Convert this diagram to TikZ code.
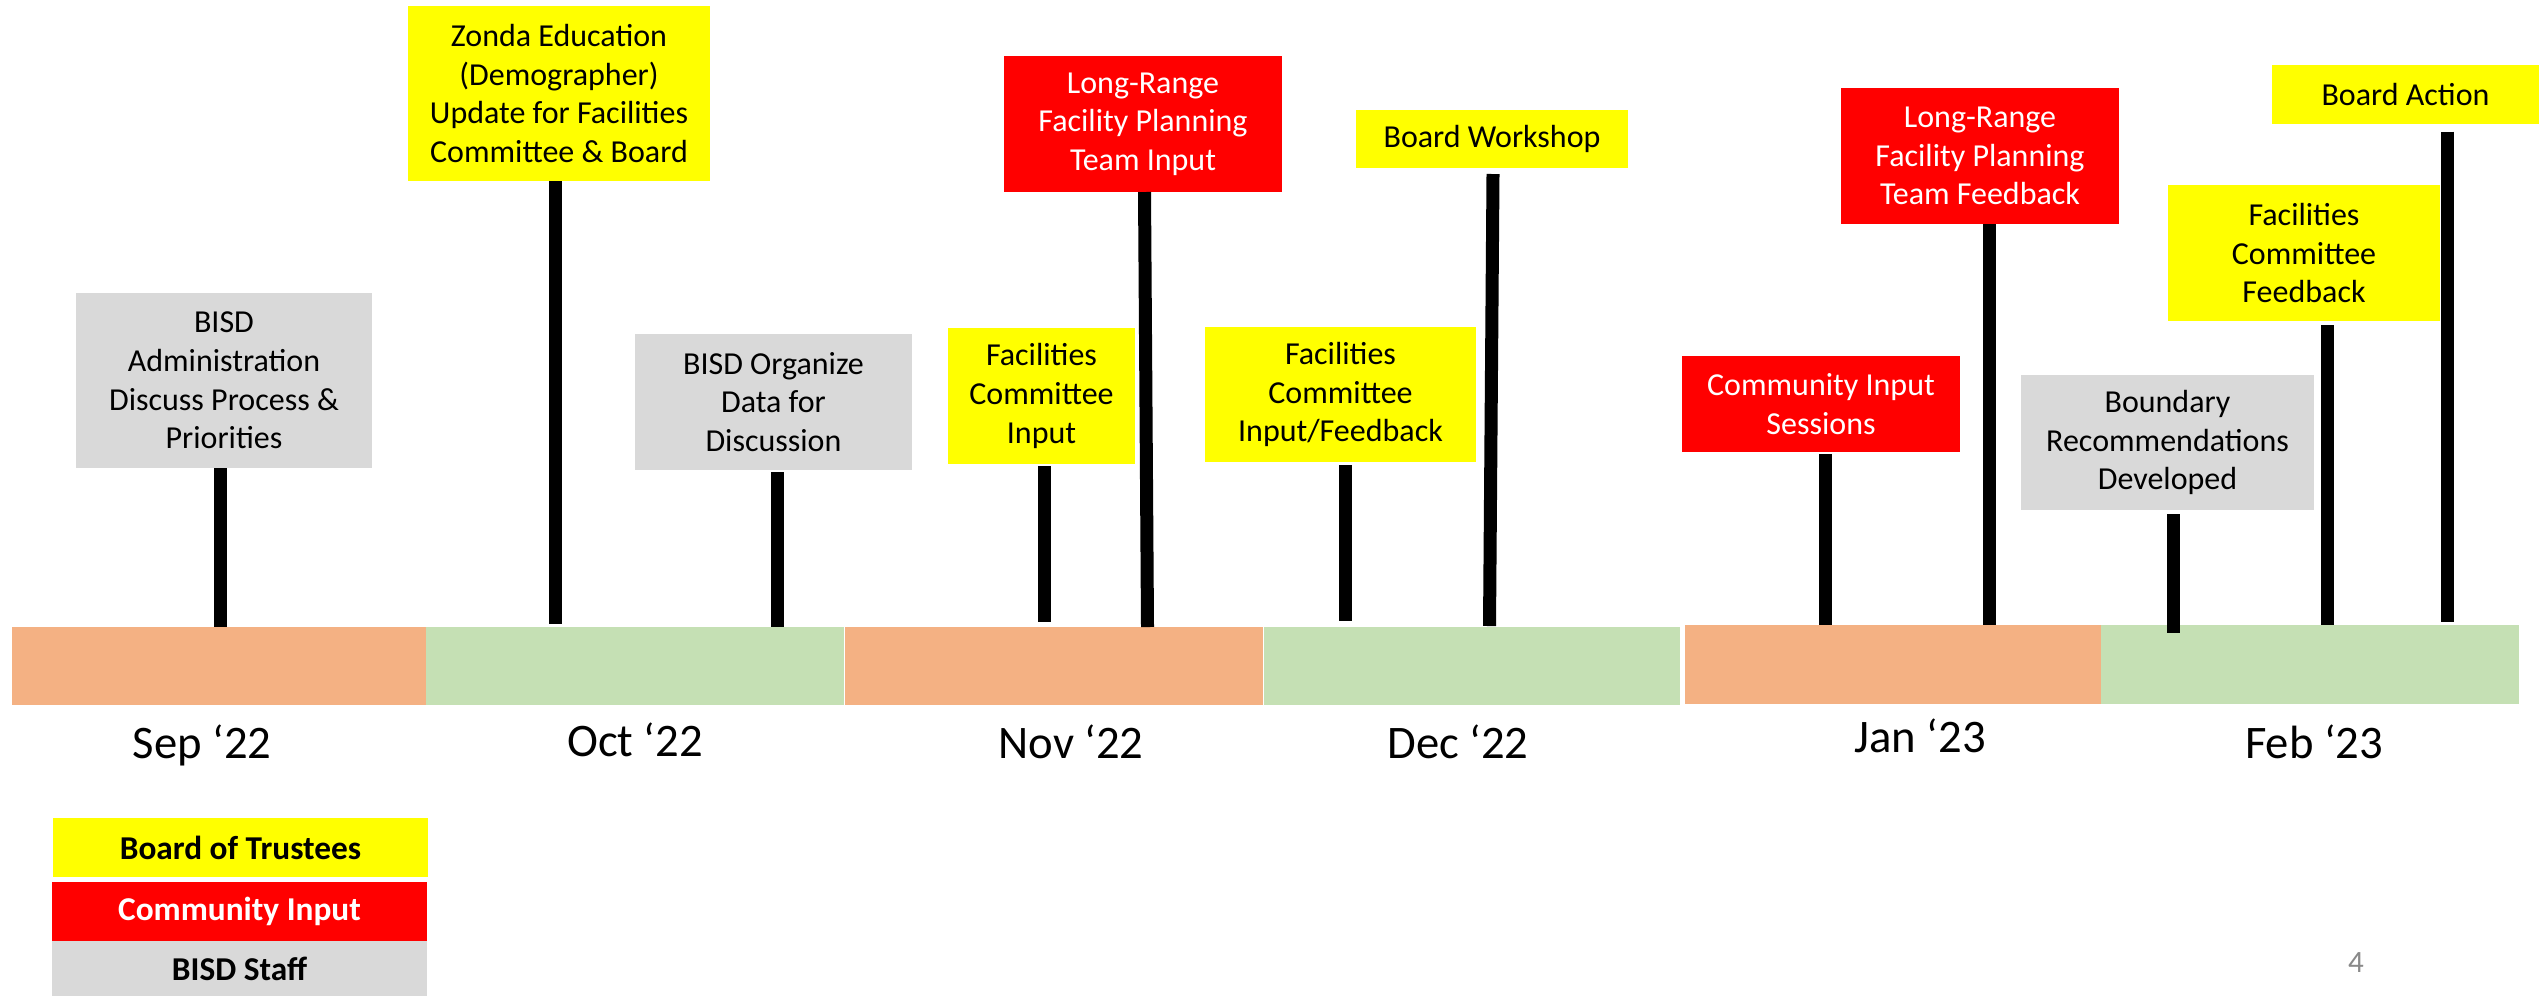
\documentclass[tikz,border=0pt]{standalone}
\usepackage{fontspec}
\setmainfont{Carlito}
\usetikzlibrary{calc}
\definecolor{byel}{HTML}{FFFF00}
\definecolor{cred}{HTML}{FF0000}
\definecolor{sgray}{HTML}{D9D9D9}
\definecolor{morange}{HTML}{F4B183}
\definecolor{mgreen}{HTML}{C5E0B4}
\definecolor{pgnum}{HTML}{898989}
\begin{document}
\begin{tikzpicture}[x=0.3pt,y=-0.3pt,
 evt/.style={inner sep=0pt, outer sep=0pt, align=center, font=\fontsize{9.6}{11.6}\selectfont},
 board/.style={evt, fill=byel, text=black},
 comm/.style={evt, fill=cred, text=white},
 staff/.style={evt, fill=sgray, text=black},
 monthbar/.style={inner sep=0pt, outer sep=0pt},
 mlabel/.style={font=\fontsize{14}{16}\selectfont, anchor=base, inner sep=0pt},
 legendbox/.style={inner sep=0pt, outer sep=0pt, minimum width=112.5pt, font=\bfseries\fontsize{10}{12}\selectfont},
 stick/.style={line width=3.9pt, black},
]
\useasboundingbox (0,0) rectangle (2539,996);
\fill[white] (0,0) rectangle (2539,996);

% month bars
\node[monthbar, fill=morange, minimum width=124.2pt, minimum height=23.4pt] (sep) at (219,666) {};
\node[monthbar, fill=mgreen, minimum width=125.4pt, minimum height=23.4pt] (oct) at (635,666) {};
\node[monthbar, fill=morange, minimum width=125.4pt, minimum height=23.4pt] (nov) at (1054,666) {};
\node[monthbar, fill=mgreen, minimum width=124.8pt, minimum height=23.4pt] (dec) at (1472,666) {};
\node[monthbar, fill=morange, minimum width=124.8pt, minimum height=23.7pt] (jan) at (1893,664.5) {};
\node[monthbar, fill=mgreen, minimum width=125.4pt, minimum height=23.7pt] (feb) at (2310,664.5) {};

% month labels
\node[mlabel] (lsep) at (202,758) {Sep ‘22};
\node[mlabel] (loct) at (635,756) {Oct ‘22};
\node[mlabel] (lnov) at (1071,758) {Nov ‘22};
\node[mlabel] (ldec) at (1458,758) {Dec ‘22};
\node[mlabel] (ljan) at (1920,752) {Jan ‘23};
\node[mlabel] (lfeb) at (2314,758) {Feb ‘23};

% event boxes
\node[staff, minimum width=88.8pt, minimum height=52.5pt] (admin) at (224,380.5) {BISD\\Administration\\Discuss Process \&\\Priorities};
\node[board, minimum width=90.6pt, minimum height=52.5pt] (zonda) at (559,93.5) {Zonda Education\\(Demographer)\\Update for Facilities\\Committee \& Board};
\node[staff, minimum width=83.1pt, minimum height=40.8pt] (organize) at (773.5,402) {BISD Organize\\Data for\\Discussion};
\node[board, minimum width=56.1pt, minimum height=40.8pt] (fci) at (1041.5,396) {Facilities\\Committee\\Input};
\node[comm, minimum width=83.4pt, minimum height=40.8pt] (lrfpti) at (1143,124) {Long-Range\\Facility Planning\\Team Input};
\node[board, minimum width=81.3pt, minimum height=40.5pt] (fcif) at (1340.5,394.5) {Facilities\\Committee\\Input/Feedback};
\node[board, minimum width=81.6pt, minimum height=17.4pt] (workshop) at (1492,139) {Board Workshop};
\node[comm, minimum width=83.4pt, minimum height=28.8pt] (cis) at (1821,404) {Community Input\\Sessions};
\node[comm, minimum width=83.4pt, minimum height=40.8pt] (lrfptf) at (1980,156) {Long-Range\\Facility Planning\\Team Feedback};
\node[staff, minimum width=87.9pt, minimum height=40.5pt] (boundary) at (2167.5,442.5) {Boundary\\Recommendations\\Developed};
\node[board, minimum width=81.6pt, minimum height=40.8pt] (fcf) at (2304,253) {Facilities\\Committee\\Feedback};
\node[board, minimum width=80.1pt, minimum height=17.7pt] (action) at (2405.5,94.5) {Board Action};

% stick bottoms
\coordinate (b1) at (220,627);
\coordinate (b2) at (555,624);
\coordinate (b3) at (777,627);
\coordinate (b4) at (1044,622);
\coordinate (b5) at (1147.5,627);
\coordinate (b6) at (1345,621);
\coordinate (b7) at (1489.5,626);
\coordinate (b8) at (1825,625);
\coordinate (b9) at (1989,625);
\coordinate (b10) at (2173,633);
\coordinate (b11) at (2327,625);
\coordinate (b12) at (2447,622);

% sticks
\draw[stick] (admin.south -| b1) -- (b1);
\draw[stick] (zonda.south -| b2) -- (b2);
\draw[stick] ($(organize.south -| b3)+(0,2)$) -- (b3);
\draw[stick] ($(fci.south -| b4)+(0,2)$) -- (b4);
\draw[stick] ($(lrfpti.south)+(1.5,0)$) -- (b5);
\draw[stick] ($(fcif.south -| b6)+(0,3)$) -- (b6);
\draw[stick] ($(workshop.south)+(1,6)$) -- (b7);
\draw[stick] ($(cis.south -| b8)+(0,2)$) -- (b8);
\draw[stick] (lrfptf.south -| b9) -- (b9);
\draw[stick] ($(boundary.south -| b10)+(0,4)$) -- (b10);
\draw[stick] ($(fcf.south -| b11)+(0,4)$) -- (b11);
\draw[stick] ($(action.south -| b12)+(0,7.5)$) -- (b12);

% legend
\node[legendbox, fill=byel, text=black, minimum height=17.7pt] (lboard) at (240.5,847.5) {Board of Trustees};
\node[legendbox, fill=cred, text=white, minimum height=17.7pt] (lcomm) at (239.5,911.5) {Community Input};
\node[legendbox, fill=sgray, text=black, minimum height=16.5pt] (lstaff) at (239.5,968.5) {BISD Staff};

% page number
\node[font=\fontsize{9.3}{11}\selectfont, text=pgnum, anchor=base, inner sep=0pt] (pg) at (2356,972) {4};
\end{tikzpicture}
\end{document}
